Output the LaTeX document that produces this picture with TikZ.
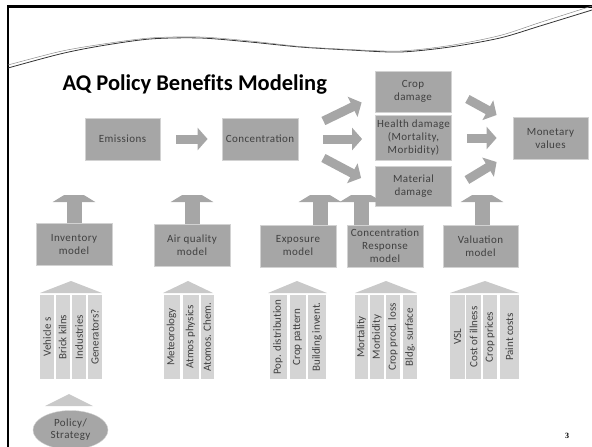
\documentclass[tikz,border=0pt]{standalone}
\usepackage{fontspec}
\setmainfont{Carlito}[Ligatures=NoCommon]
\newfontfamily\spaced[LetterSpace=4]{Carlito}
\newfontfamily\numfont{Liberation Serif}
\usepackage{tikz}
\usetikzlibrary{shapes}
\usetikzlibrary{arrows.meta}
\definecolor{boxgray}{HTML}{A6A6A6}
\definecolor{edgegray}{HTML}{D2D2D2}
\definecolor{pillgray}{HTML}{D4D4D4}
\definecolor{roofgray}{HTML}{C9C9C9}
\definecolor{txtgray}{HTML}{404040}
\tikzstyle{box}=[fill=boxgray,draw=edgegray,line width=0.8pt,text=txtgray,align=center,font=\spaced\fontsize{11}{13}\selectfont,minimum width=76pt,minimum height=42pt,inner sep=0pt]
\tikzstyle{pillar}=[fill=pillgray,text=txtgray,font=\fontsize{11}{13}\selectfont,rotate=90,minimum width=84pt,minimum height=14pt,inner sep=0pt]
\tikzstyle{flow}=[draw=boxgray,line width=9pt,-{Triangle[width=22pt,length=10pt]}]
\tikzstyle{feed}=[draw=boxgray,line width=15pt,-{Triangle[width=42pt,length=13pt]}]
\tikzstyle{roof}=[fill=roofgray]

\begin{document}
\begin{tikzpicture}[x=1pt,y=-1pt]
\useasboundingbox (0,0) rectangle (592,447);

% slide frame and wave
\draw[line width=2.5pt] (8,447) -- (8,6.5) -- (592,6.5);
\draw[black!80,line width=0.8pt] plot[smooth] coordinates {(8,68) (60,54) (100,46) (150,39) (200,38) (250,42) (300,47) (350,50) (400,52) (450,47) (500,38) (540,26) (592,10)};
\draw[black!45,line width=0.5pt] plot[smooth] coordinates {(8,65) (60,51.5) (100,44.5) (150,38) (200,37) (250,41) (300,46.5) (350,49.5) (400,51) (450,45.5) (500,35.5) (540,22.5) (592,6)};

\draw (59,90) node [anchor=base west,font=\bfseries\fontsize{22.5}{27}\selectfont] (title) {AQ Policy Benefits Modeling};

% top row
\draw (122.5,139) node [box,minimum width=75pt] (emis) {Emissions};
\draw (260,139) node [box] (conc) {Concentration};
\draw (413,91.5) node [box,minimum height=41pt] (crop) {Crop\\damage};
\draw (413.5,137.5) node [box,minimum height=45pt] (health) {Health damage\\(Mortality,\\Morbidity)};
\draw (413.5,186) node [box,minimum height=40pt] (mat) {Material\\damage};
\draw (550.5,138.5) node [box,minimum width=75pt] (money) {Monetary\\values};

\draw[flow] ([shift={(16,0)}]emis.east) -- ([shift={(-14,0)}]conc.west);
\draw[flow] ([shift={(25,-18)}]conc.east) -- ([shift={(-13,11)}]crop.west);
\draw[flow] ([shift={(25,0)}]conc.east) -- ([shift={(-13,1.5)}]health.west);
\draw[flow] ([shift={(25,19)}]conc.east) -- ([shift={(-14,-8)}]mat.west);
\draw[flow] ([shift={(16,7.5)}]crop.east) -- ([shift={(-16,-23.5)}]money.west);
\draw[flow] ([shift={(15,0.5)}]health.east) -- ([shift={(-16,-0.5)}]money.west);
\draw[flow] ([shift={(15,-6)}]mat.east) -- ([shift={(-16,23.5)}]money.west);

% models
\draw (74,244.5) node [box] (inv) {Inventory\\model};
\draw (192,245.5) node [box] (aq) {Air quality\\model};
\draw (298,246) node [box] (expo) {Exposure\\model};
\draw (385,246) node [box] (cr) {Concentration\\Response\\model};
\draw (480.5,246) node [box,minimum width=75pt] (val) {Valuation\\model};

\coordinate (f1) at (74,189);
\coordinate (f2) at (192,189);
\coordinate (f3) at (320,189);
\coordinate (f4) at (361,189);
\coordinate (f5) at (482,189);

% flat-topped heads: cut the tips off
\begin{scope}
\clip (0,195) rectangle (592,447);
\draw[feed] (inv.north -| f1) -- (f1);
\draw[feed] (aq.north -| f2) -- (f2);
\draw[feed] (expo.north -| f3) -- (f3);
\draw[feed] (cr.north -| f4) -- (f4);
\draw[feed] (val.north -| f5) -- (f5);
\end{scope}

% pillars under each model
\fill[roof] (40,293) -- (71,281) -- (102,293) -- cycle;
\draw (47,337) node [pillar] (v1) {Vehicle s};
\draw (62.5,337) node [pillar] (v2) {Brick kilns};
\draw (79,337) node [pillar] (v3) {Industries};
\draw (95,337) node [pillar] (v4) {Generators?};

\fill[roof] (163,293) -- (188,281) -- (213,293) -- cycle;
\draw (171.5,337) node [pillar,minimum height=16pt] (m1) {Meteorology};
\draw (190.5,337) node [pillar,minimum height=16pt] (m2) {Atmos physics};
\draw (207,337) node [pillar,minimum height=13pt] (m3) {Atomos. Chem.};

\fill[roof] (268,293) -- (297,281) -- (327,293) -- cycle;
\draw (278,337) node [pillar,minimum height=17pt] (e1) {Pop. distribution};
\draw (297.5,337) node [pillar,minimum height=16pt] (e2) {Crop pattern};
\draw (317,337) node [pillar,minimum height=18pt] (e3) {Building invent.};

\fill[roof] (355,293) -- (386,281) -- (417,293) -- cycle;
\draw (361.5,337) node [pillar,minimum height=13pt] (c1) {Mortality};
\draw (377,337) node [pillar] (c2) {Morbidity};
\draw (393,337) node [pillar] (c3) {Crop prod. loss};
\draw (410,337) node [pillar] (c4) {Bldg. surface};

\fill[roof] (450,293) -- (485,281) -- (519,293) -- cycle;
\draw (457.5,337) node [pillar,minimum height=15pt] (s1) {VSL};
\draw (473.5,337) node [pillar,minimum height=15pt] (s2) {Cost of illness};
\draw (490,337) node [pillar] (s3) {Crop prices};
\draw (509.5,337) node [pillar,minimum height=19pt] (s4) {Paint costs};

% policy at the base
\fill[roof] (45,406) -- (69,394) -- (93,406) -- cycle;
\draw (70.5,430) node [ellipse,fill=boxgray,draw=edgegray,text=txtgray,font=\spaced\fontsize{11}{12}\selectfont,align=center,minimum width=75pt,minimum height=39pt,inner sep=0pt] (policy) {Policy/\\Strategy};

\draw (567,436) node [font=\numfont\bfseries\fontsize{8}{9}\selectfont] (page) {3};
\end{tikzpicture}
\end{document}
